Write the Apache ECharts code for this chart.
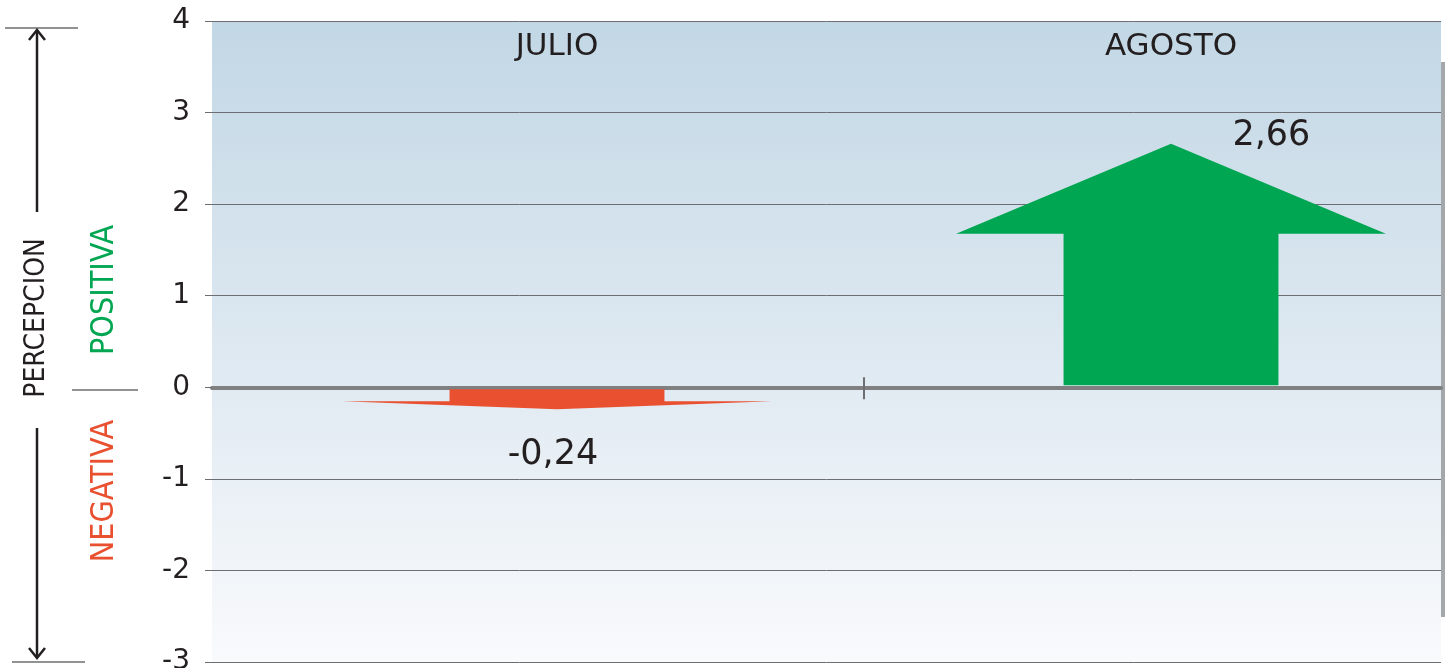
<!DOCTYPE html>
<html>
<head>
<meta charset="utf-8">
<script src="https://cdn.jsdelivr.net/npm/echarts@6/dist/echarts.min.js"></script>
<style>
html,body{margin:0;padding:0;background:#ffffff;}
#chart{width:1447px;height:668px;}
</style>
</head>
<body>
<div id="chart"></div>
<script>
// ---- data ----
const months = ['JULIO', 'AGOSTO'];
const perception = [-0.24, 2.66];
const yTicks = [-3, -2, -1, 0, 1, 2, 3, 4];

const POS = '#00a651';
const NEG = '#e9502f';
const TXT = '#231f20';

const chart = echarts.init(document.getElementById('chart'));

function fmt(v) { return String(v).replace('.', ','); }

const option = {
  animation: false,
  grid: [
    { left: 212, right: 6, top: 21, bottom: 6, show: true, borderWidth: 0,
      outerBoundsMode: 'none', containLabel: false,
      backgroundColor: new echarts.graphic.LinearGradient(0, 0, 0, 1, [
        { offset: 0, color: '#c2d7e5' },
        { offset: 0.55, color: '#e0eaf2' },
        { offset: 1, color: '#f9fafc' }
      ]) },
    { left: 250, right: -31, top: 21, bottom: 6, outerBoundsMode: 'none', containLabel: false }
  ],
  xAxis: [
    { type: 'category', gridIndex: 0, data: months,
      axisLine: { show: true, onZero: true, lineStyle: { color: '#808080', width: 4 } },
      axisTick: { show: false }, axisLabel: { show: false }, splitLine: { show: false } },
    { type: 'category', gridIndex: 1, data: months, position: 'top',
      axisLine: { show: false, onZero: false }, axisTick: { show: false },
      axisLabel: { inside: true, margin: 10, fontSize: 31, color: TXT,
        fontFamily: 'DejaVu Sans' },
      splitLine: { show: false } }
  ],
  yAxis: [
    { type: 'value', gridIndex: 0, min: yTicks[0], max: yTicks[yTicks.length - 1], interval: 1,
      axisLine: { show: false },
      axisTick: { show: true, length: 7, lineStyle: { color: '#6d6e71', width: 1 } },
      axisLabel: { margin: 22, fontSize: 28, color: TXT, fontFamily: 'DejaVu Sans' },
      splitLine: { show: true, lineStyle: { color: '#6d6e71', width: 1 } } },
    { type: 'value', gridIndex: 1, min: yTicks[0], max: yTicks[yTicks.length - 1], interval: 1,
      show: false, splitLine: { show: false } }
  ],
  series: [{
    type: 'custom',
    xAxisIndex: 1, yAxisIndex: 1,
    data: perception.map((v, i) => [i, v]),
    renderItem: function (params, api) {
      const cat = api.value(0), v = api.value(1);
      const base = api.coord([cat, 0]);
      const tip = api.coord([cat, v]);
      const band = api.size([1, 0])[0];
      const shaftW = band * 0.35, headW = band * 0.70;
      const sign = v >= 0 ? -1 : 1;
      const len = tip[1] - base[1];
      const neck = tip[1] - len * 0.37;
      const x = base[0];
      const b = base[1] + sign * 2;
      const color = v >= 0 ? POS : NEG;
      const children = [{
        type: 'polygon',
        shape: { points: [
          [x - shaftW / 2, b], [x - shaftW / 2, neck], [x - headW / 2, neck],
          [x, tip[1]], [x + headW / 2, neck], [x + shaftW / 2, neck], [x + shaftW / 2, b]
        ] },
        style: { fill: color }
      }];
      if (v >= 0) {
        children.push({ type: 'text', x: x + band * 0.1, y: tip[1] + 10,
          style: { text: fmt(v), fill: TXT, fontSize: 35, fontFamily: 'DejaVu Sans',
            align: 'left', verticalAlign: 'bottom' } });
      } else {
        children.push({ type: 'text', x: x - 4, y: tip[1] + 28,
          style: { text: fmt(v), fill: TXT, fontSize: 35, fontFamily: 'DejaVu Sans',
            align: 'center', verticalAlign: 'top' } });
      }
      if (params.dataIndex < perception.length - 1) {
        const bx = x + band / 2;
        children.push({ type: 'line', shape: { x1: bx, y1: base[1] - 10, x2: bx, y2: base[1] + 12 },
          style: { stroke: '#6d6e71', lineWidth: 2 } });
      }
      return { type: 'group', children: children };
    }
  }],
  graphic: [
    // right edge shadow
    { type: 'rect', shape: { x: 1441, y: 62, width: 4, height: 555 },
      style: { fill: '#a5a8ab' }, silent: true },
    // left annotation
    { type: 'line', shape: { x1: 5, y1: 28, x2: 78, y2: 28 }, style: { stroke: '#6d6e71', lineWidth: 1.5 } },
    { type: 'line', shape: { x1: 37, y1: 30, x2: 37, y2: 212 }, style: { stroke: TXT, lineWidth: 2.5 } },
    { type: 'polyline', shape: { points: [[29, 40], [37, 30], [45, 40]] }, style: { stroke: TXT, lineWidth: 2.5, fill: null } },
    { type: 'text', x: 37, y: 318, rotation: Math.PI / 2,
      style: { text: 'PERCEPCION', fill: TXT, fontSize: 28,
        fontFamily: "'Liberation Sans Narrow', 'DejaVu Sans Condensed', sans-serif",
        align: 'center', verticalAlign: 'middle' } },
    { type: 'line', shape: { x1: 72, y1: 390, x2: 138, y2: 390 }, style: { stroke: '#6d6e71', lineWidth: 1.5 } },
    { type: 'line', shape: { x1: 37, y1: 428, x2: 37, y2: 658 }, style: { stroke: TXT, lineWidth: 2.5 } },
    { type: 'polyline', shape: { points: [[29, 648], [37, 658], [45, 648]] }, style: { stroke: TXT, lineWidth: 2.5, fill: null } },
    { type: 'line', shape: { x1: 12, y1: 662, x2: 85, y2: 662 }, style: { stroke: '#6d6e71', lineWidth: 1.5 } },
    { type: 'text', x: 105, y: 290, rotation: Math.PI / 2,
      style: { text: 'POSITIVA', fill: POS, fontSize: 32,
        fontFamily: "'Liberation Sans Narrow', 'DejaVu Sans Condensed', sans-serif",
        align: 'center', verticalAlign: 'middle' } },
    { type: 'text', x: 105, y: 491, rotation: Math.PI / 2,
      style: { text: 'NEGATIVA', fill: NEG, fontSize: 32,
        fontFamily: "'Liberation Sans Narrow', 'DejaVu Sans Condensed', sans-serif",
        align: 'center', verticalAlign: 'middle' } }
  ]
};

chart.setOption(option);
</script>
</body>
</html>
